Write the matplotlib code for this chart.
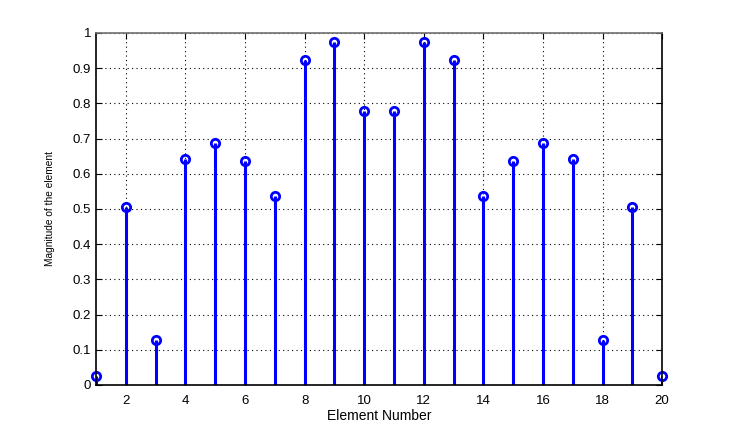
import numpy as np
import matplotlib
matplotlib.use("Agg")
from matplotlib import pyplot as plt

# element index and magnitude
element = np.arange(1, 21)
magnitude = [0.025, 0.505, 0.128, 0.641, 0.686, 0.636, 0.537, 0.923, 0.973, 0.777,
             0.777, 0.973, 0.923, 0.537, 0.636, 0.686, 0.641, 0.128, 0.505, 0.025]
xticks = np.arange(2, 21, 2)
yticks = np.round(np.arange(0, 1.01, 0.1), 1)

plt.rcParams['font.family'] = ['Liberation Sans', 'DejaVu Sans']

fig = plt.figure(figsize=(7.3, 4.33), dpi=100)
ax = fig.add_axes([0.1315, 0.111, 0.7755, 0.813])

markerline, stemlines, baseline = ax.stem(element, magnitude, basefmt=' ')
stemlines.set_color('#0000ff')
stemlines.set_linewidth(2.2)
markerline.set_color('#0000ff')
markerline.set_markerfacecolor('none')
markerline.set_markersize(6)
markerline.set_markeredgewidth(2)
markerline.set_clip_on(False)

ax.set_xlim(1, 20)
ax.set_ylim(0, 1)
ax.set_xticks(xticks)
ax.set_yticks(yticks)
ax.set_yticklabels([('%g' % v) for v in yticks])
ax.tick_params(direction='in', top=True, right=True, labelsize=9.5, length=4, colors='black')
ax.tick_params(axis='x', pad=7)
ax.grid(True, linestyle=(0, (1, 3)), color='black', linewidth=0.8)
ax.set_axisbelow(True)
for s in ax.spines.values():
    s.set_linewidth(1.2)
ax.spines['top'].set_color('#707070')

ax.set_xlabel('Element Number', fontsize=10, labelpad=2)
ax.set_ylabel('Magnitude of the element', fontsize=7.3, labelpad=13)

fig.savefig('out.png', dpi=100, facecolor='white')
